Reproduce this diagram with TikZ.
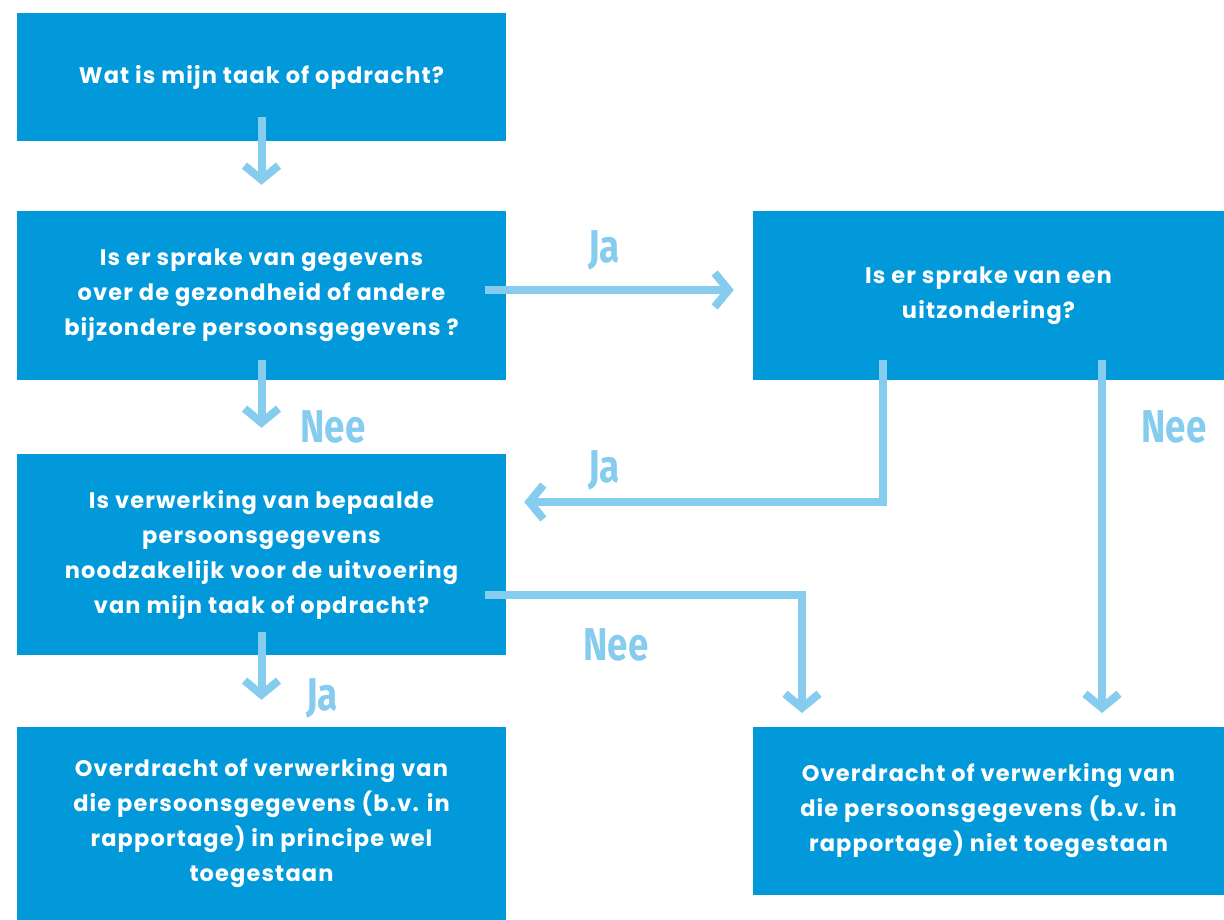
\documentclass[tikz,border=0pt]{standalone}
\usepackage{fontspec}
\setmainfont{Poppins}[LetterSpace=5]
\newfontfamily\labelfont{Fira Sans}[FakeStretch=0.8]
\usetikzlibrary{arrows.meta}

\definecolor{boxblue}{HTML}{0199DA}
\definecolor{arrowblue}{HTML}{85CCEE}

\tikzset{
  stepbox/.style={fill=boxblue, text=white, align=center, inner sep=0pt,
    font=\fontsize{22.5}{35}\selectfont\bfseries},
  flow/.style={arrowblue, line width=8pt, line join=miter,
    -{Straight Barb[length=14pt, width=34pt]}},
  answer/.style={text=arrowblue, font=\labelfont\fontsize{46}{46}\selectfont\bfseries}
}

\begin{document}
\begin{tikzpicture}[x=1pt, y=-1pt]
        \useasboundingbox (0,0) rectangle (1224,920);

        % vragen
        \node[stepbox, minimum width=489pt, minimum height=128pt] (taak) at (261.5,77)
          {Wat is mijn taak of opdracht?};
        \node[stepbox, minimum width=489pt, minimum height=169pt] (gezond) at (261.5,295.5)
          {Is er sprake van gegevens\\over de gezondheid of andere\\bijzondere persoonsgegevens ?};
        \node[stepbox, minimum width=471pt, minimum height=169pt] (uitz) at (988.5,295.5)
          {Is er sprake van een\\uitzondering?};
        \node[stepbox, minimum width=489pt, minimum height=201pt] (nodig) at (261.5,554.5)
          {Is verwerking van bepaalde\\persoonsgegevens\\noodzakelijk voor de uitvoering\\van mijn taak of opdracht?};

        % uitkomsten
        \node[stepbox, minimum width=489pt, minimum height=193pt] (wel) at (261.5,823.5)
          {Overdracht of verwerking van\\die persoonsgegevens (b.v. in\\rapportage) in principe wel\\toegestaan};
        \node[stepbox, minimum width=471pt, minimum height=168pt] (niet) at (988.5,811)
          {Overdracht of verwerking van\\die persoonsgegevens (b.v. in\\rapportage) niet toegestaan};

        % pijlen
        \draw[flow] ([yshift=24pt]taak.south) -- ([yshift=26pt]gezond.north);
        \draw[flow] ([yshift=20pt]gezond.south) -- ([yshift=26pt]nodig.north);
        \draw[flow] ([yshift=23pt]nodig.south) -- ([yshift=27pt]wel.north);
        \draw[flow] ([xshift=-21pt]gezond.east |- 0,290) -- ([xshift=-19pt]uitz.west |- 0,290);
        \draw[flow] (883,360) |- ([xshift=18pt]nodig.east |- 0,502);
        \draw[flow] ([xshift=-21pt]nodig.east |- 0,595) -| ([yshift=14pt]802,727);
        \draw[flow] (1102,360) -- ([yshift=14pt]1102,727);

        % antwoorden
        \node[answer] (ja1) at (604,250) {Ja};
        \node[answer] (nee1) at (333,427) {Nee};
        \node[answer] (ja2) at (604,470) {Ja};
        \node[answer] (nee2) at (1174,427) {Nee};
        \node[answer] (nee3) at (616,645) {Nee};
        \node[answer] (ja3) at (322,698) {Ja};
    \end{tikzpicture}
\end{document}
